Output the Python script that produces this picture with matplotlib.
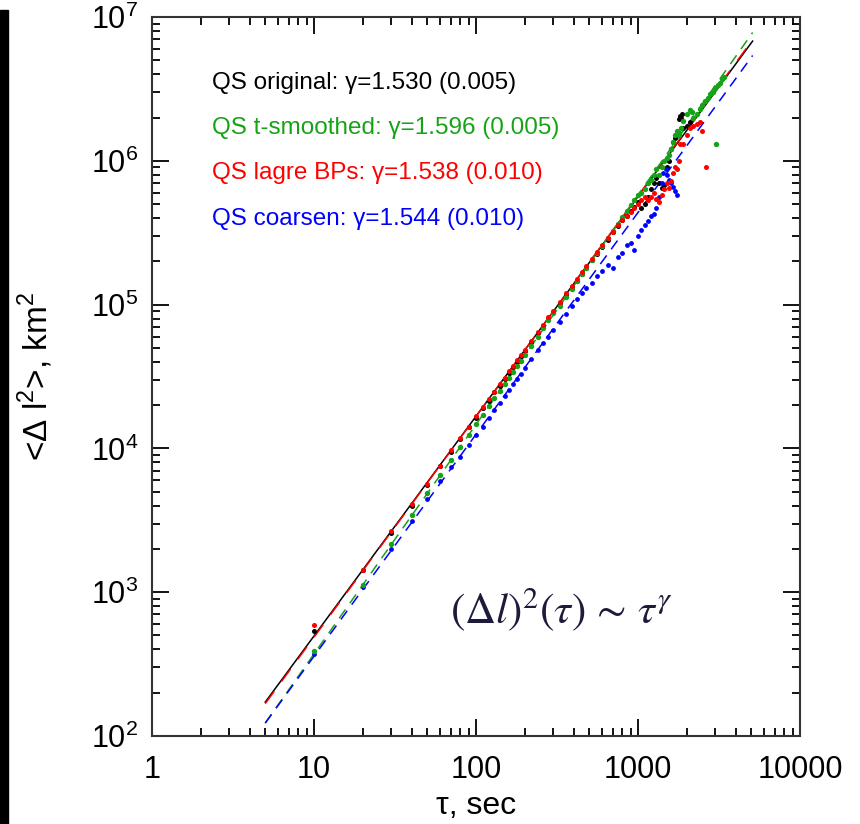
import matplotlib
matplotlib.use('Agg')
import matplotlib.pyplot as plt
from matplotlib.ticker import FixedLocator, FixedFormatter, LogLocator, NullFormatter
from matplotlib.patches import Rectangle

plt.rcParams['font.family'] = ['Liberation Sans', 'DejaVu Sans']
plt.rcParams['mathtext.fontset'] = 'custom'
plt.rcParams['mathtext.rm'] = 'Liberation Sans'

# shared lag times up to 1000 s
tau = [10, 20, 30, 40, 50, 60, 70, 80, 90, 100, 110, 120, 130, 140, 150, 160, 170, 180, 190, 200,
       220, 240, 260, 280, 300, 330, 360, 390, 420, 450, 480, 520, 560, 600, 650, 700, 750, 800,
       850, 900, 950, 1000]

black_vals = [535, 1420, 2600, 4000, 5600, 7500, 9500, 11600, 14000, 16300, 19000, 21500, 24500,
              27300, 30500, 33500, 37000, 40000, 44000, 47500, 55000, 63000, 71500, 80000, 89000,
              102000, 117000, 132000, 147000, 164000, 181000, 204000, 226000, 252000, 283000,
              318000, 352000, 385000, 415000, 450000, 480000, 520000]
green_vals = [390, 1130, 2150, 3430, 4900, 6500, 8300, 10300, 12400, 14700, 17100, 19700, 22300,
              25100, 28000, 31000, 34100, 37400, 40800, 44300, 51800, 60000, 68700, 78000, 87000,
              98500, 113000, 128000, 145000, 162000, 179000, 204000, 229000, 256000, 291000,
              327000, 365000, 405000, 446000, 489000, 532000, 578000]
red_vals = [590, 1430, 2650, 4100, 5700, 7600, 9700, 11800, 14200, 16700, 19300, 22000, 24800,
            27900, 31000, 34300, 37500, 41000, 44500, 48200, 56000, 64000, 72500, 81500, 90500,
            105000, 120000, 135000, 151000, 168000, 185000, 208000, 232000, 258000, 290000,
            322000, 355000, 390000, 410000, 440000, 470000, 500000]
blue_vals = [370, 1080, 2000, 3150, 4450, 5900, 7400, 8700, 10500, 12300, 14200, 16300, 18500,
             20800, 23000, 25500, 28000, 30500, 33000, 36000, 42000, 48000, 54000, 60000, 67000,
             76000, 86000, 98000, 110000, 121000, 130000, 142000, 158000, 170000, 190000, 180000,
             215000, 230000, 260000, 270000, 240000, 300000]

# long-lag tails, where the series scatter apart
black_tail_tau = [1050, 1100, 1150, 1200, 1250, 1300, 1350, 1400, 1450, 1500, 1550, 1600, 1650,
                  1700, 1750, 1780, 1800, 1820, 1850, 1880, 1900, 2000, 2100]
black_tail = [470000, 500000, 560000, 640000, 700000, 760000, 700000, 650000, 680000, 900000,
              1.0e6, 1.2e6, 1.35e6, 1.45e6, 1.5e6, 1.55e6, 1.95e6, 2.05e6, 2.0e6, 2.1e6, 1.7e6,
              1.75e6, 1.85e6]
green_tail_tau = [1050, 1100, 1150, 1200, 1250, 1300, 1350, 1400, 1450, 1500, 1550, 1600, 1650,
                  1700, 1750, 1780, 1800, 1850, 1900, 2000, 2100, 2150, 2200, 2300, 2400, 2500,
                  2600, 2700, 2800, 2900, 3000, 3020, 3100, 3200, 3300, 3400]
green_tail = [600000, 640000, 700000, 740000, 800000, 870000, 800000, 900000, 1.0e6, 1.05e6,
              1.1e6, 1.2e6, 1.35e6, 1.5e6, 1.6e6, 1.55e6, 1.5e6, 1.7e6, 1.9e6, 2.1e6, 2.25e6,
              2.2e6, 2.0e6, 2.1e6, 2.3e6, 2.45e6, 2.6e6, 2.75e6, 2.9e6, 3.0e6, 3.2e6, 1.3e6,
              3.35e6, 3.5e6, 3.7e6, 3.85e6]
red_tail_tau = [1050, 1100, 1150, 1200, 1250, 1300, 1350, 1400, 1450, 1500, 1550, 1600, 1650,
                1700, 1750, 1800, 1820, 1900, 2000, 2100, 2200, 2300, 2400, 2500, 2630]
red_tail = [530000, 560000, 530000, 560000, 600000, 540000, 520000, 580000, 640000, 700000,
            650000, 720000, 820000, 900000, 880000, 1.0e6, 1.3e6, 1.3e6, 1.5e6, 1.7e6, 1.75e6,
            1.8e6, 1.85e6, 1.6e6, 9.1e5]
blue_tail_tau = [1050, 1100, 1150, 1200, 1250, 1300, 1350, 1400, 1430, 1480, 1520, 1560, 1600,
                 1650, 1700, 1740]
blue_tail = [330000, 360000, 380000, 410000, 430000, 470000, 560000, 700000, 820000, 880000,
             800000, 740000, 700000, 660000, 620000, 580000]

# fitted power laws, end points
fit_tau = [5, 5100]
fit_black = [172, 6.8e6]
fit_red = [168, 6.95e6]
fit_green = [123, 7.8e6]
fit_blue = [123, 5.4e6]

labels = ['QS original: \u03b3=1.530 (0.005)',
          'QS t-smoothed: \u03b3=1.596 (0.005)',
          'QS lagre BPs: \u03b3=1.538 (0.010)',
          'QS coarsen: \u03b3=1.544 (0.010)']

c_black = 'black'
c_green = '#17a317'
c_red = '#ff0000'
c_blue = '#0000ff'

fig = plt.figure(figsize=(8.6, 8.24), dpi=100)
ax = fig.add_axes([152 / 860, 88 / 824, 648 / 860, 719 / 824])

# fit lines
ax.plot(fit_tau, fit_black, color=c_black, lw=1.1, zorder=2)
ax.plot(fit_tau, fit_red, color=c_red, lw=1.1, dashes=(10, 8), zorder=2)
ax.plot(fit_tau, fit_green, color=c_green, lw=1.1, dashes=(7, 5), zorder=2)
ax.plot(fit_tau, fit_blue, color=c_blue, lw=1.1, dashes=(7, 5), zorder=2)

# data points
ax.scatter(tau + black_tail_tau, black_vals + black_tail, s=13, color=c_black, lw=0, zorder=3)
ax.scatter(tau + blue_tail_tau, blue_vals + blue_tail, s=12, color=c_blue, lw=0, zorder=3)
ax.scatter(tau + green_tail_tau, green_vals + green_tail, s=15, color=c_green, lw=0, zorder=4)
ax.scatter(tau + red_tail_tau, red_vals + red_tail, s=13, color=c_red, lw=0, zorder=5)

ax.set_xscale('log')
ax.set_yscale('log')
ax.set_xlim(1, 10000)
ax.set_ylim(100, 1e7)

ax.xaxis.set_major_locator(FixedLocator([1, 10, 100, 1000, 10000]))
ax.xaxis.set_major_formatter(FixedFormatter(['1', '10', '100', '1000', '10000']))
ax.xaxis.set_minor_locator(LogLocator(base=10, subs=range(2, 10)))
ax.xaxis.set_minor_formatter(NullFormatter())
ax.yaxis.set_major_locator(LogLocator(base=10, numticks=10))
ax.yaxis.set_minor_locator(LogLocator(base=10, subs=range(2, 10), numticks=10))
ax.yaxis.set_minor_formatter(NullFormatter())

ax.tick_params(which='both', direction='in', top=True, right=True, width=1.3, labelsize=22)
ax.tick_params(which='major', length=12)
ax.tick_params(which='minor', length=6)
ax.tick_params(axis='x', which='major', pad=14)
ax.tick_params(axis='y', which='major', pad=10)
for sp in ax.spines.values():
    sp.set_linewidth(1.5)
    sp.set_color('#333333')

ax.set_xlabel('\u03c4, sec', fontsize=23, labelpad=4)
ax.set_ylabel('<\u0394 l$^2$>, km$^2$', fontsize=24, labelpad=26)

# legend texts
text_y = [0.900, 0.837, 0.775, 0.711]
for lab, col, yy in zip(labels, [c_black, c_green, c_red, c_blue], text_y):
    ax.text(0.093, yy, lab, color=col, fontsize=17.5, transform=ax.transAxes, va='baseline')

ax.text(0.46, 0.157, r'$(\Delta l)^2(\tau)\,\sim\,\tau^{\gamma}$', color='#1c1c3a', fontsize=31,
        transform=ax.transAxes, va='baseline', math_fontfamily='stix')

# dark strip along the left edge of the picture
fig.patches.append(Rectangle((0, 0), 8 / 860, 814 / 824, transform=fig.transFigure,
                             color='black', zorder=0))

fig.savefig('out.png', dpi=100)
